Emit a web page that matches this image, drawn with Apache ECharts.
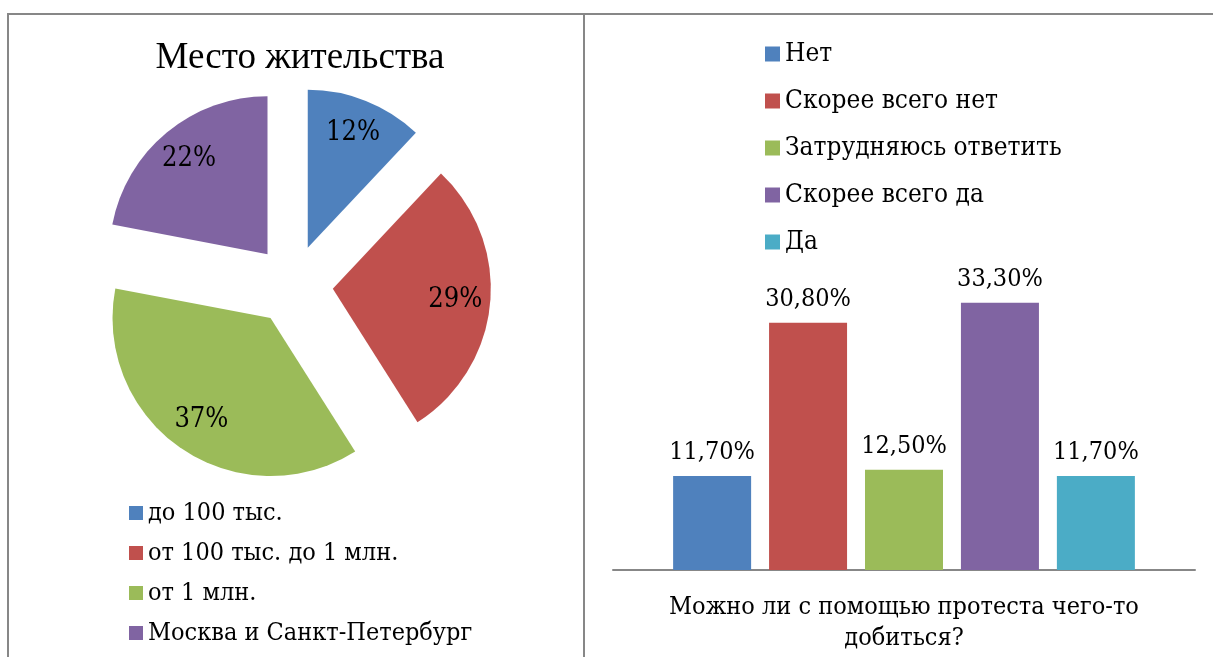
<!DOCTYPE html>
<html>
<head>
<meta charset="utf-8">
<script src="https://cdn.jsdelivr.net/npm/echarts@6/dist/echarts.min.js"></script>
<style>
html,body{margin:0;padding:0;background:#fff;}
#main{width:1213px;height:657px;}
</style>
</head>
<body>
<div id="main"></div>
<script>
// ---- Data ----
const pieTitle = 'Место жительства';
const pieCategories = ['до 100 тыс.', 'от 100 тыс. до 1 млн.', 'от 1 млн.', 'Москва и Санкт-Петербург'];
const pieValues = [12, 29, 37, 22];
const pieColors = ['#4F81BD', '#C0504D', '#9BBB59', '#8064A2'];

const barQuestion = ['Можно ли с помощью протеста чего-то\nдобиться?'];
const barSeriesNames = ['Нет', 'Скорее всего нет', 'Затрудняюсь ответить', 'Скорее всего да', 'Да'];
const barValues = [11.7, 30.8, 12.5, 33.3, 11.7];
const barColors = ['#4F81BD', '#C0504D', '#9BBB59', '#8064A2', '#4BACC6'];

const FONT = '"DejaVu Serif Condensed", "DejaVu Serif", serif';
const GRAY = '#878787';

const chart = echarts.init(document.getElementById('main'), null, {renderer: 'canvas'});

const pieData = pieCategories.map((n, i) => ({
  name: n, value: pieValues[i], selected: true,
  itemStyle: {color: pieColors[i]}
}));
const pieLabelData = pieCategories.map((n, i) => ({
  name: n, value: pieValues[i], selected: true
}));

const barSeries = barSeriesNames.map((n, i) => ({
  type: 'bar', name: n, data: [barValues[i]],
  barWidth: 78, barGap: '23%',
  itemStyle: {color: barColors[i]},
  label: {
    show: true, position: 'top', distance: 11,
    fontFamily: FONT, fontSize: 25, color: '#000',
    formatter: p => p.value.toFixed(2).replace('.', ',') + '%'
  },
  silent: true
}));

const option = {
  animation: false,
  backgroundColor: '#fff',
  title: {
    text: pieTitle, left: 295, top: 35, textAlign: 'center',
    textStyle: {fontFamily: '"Liberation Serif", serif', fontSize: 37, fontWeight: 'normal', color: '#000'}
  },
  legend: [{
    data: pieCategories, orient: 'vertical', left: 124, top: 495,
    itemWidth: 14, itemHeight: 14, itemGap: 14, icon: 'rect',
    textStyle: {fontFamily: FONT, fontSize: 25, lineHeight: 26, color: '#000'},
    selectedMode: false
  }, {
    data: barSeriesNames, orient: 'vertical', left: 760, top: 36,
    itemWidth: 15, itemHeight: 15, itemGap: 21, icon: 'rect',
    textStyle: {fontFamily: FONT, fontSize: 26, lineHeight: 26, color: '#000'},
    selectedMode: false
  }],
  grid: {left: 613, right: 18, top: 249, bottom: 87, containLabel: false},
  xAxis: {
    type: 'category', data: barQuestion,
    axisLine: {lineStyle: {color: GRAY, width: 2}},
    axisTick: {show: false},
    axisLabel: {fontFamily: FONT, fontSize: 25, lineHeight: 31, color: '#000', margin: 22}
  },
  yAxis: {type: 'value', min: 0, max: 40, show: false, splitLine: {show: false}},
  series: [{
    type: 'pie', name: 'pie', center: [293, 285], radius: [0, 158],
    startAngle: 90, clockwise: true,
    selectedMode: 'multiple', selectedOffset: 40,
    data: pieData, label: {show: false}, labelLine: {show: false},
    itemStyle: {borderWidth: 0}, silent: true,
    emphasis: {disabled: true}
  }, {
    type: 'pie', name: 'pieLabels', center: [293, 285], radius: [0, 240],
    startAngle: 90, clockwise: true,
    selectedMode: 'multiple', selectedOffset: 40,
    data: pieLabelData,
    itemStyle: {color: 'rgba(0,0,0,0)', borderWidth: 0},
    label: {show: true, position: 'inside', formatter: p => p.value + '%',
      fontFamily: FONT, fontSize: 27, color: '#000'},
    labelLine: {show: false}, silent: true, emphasis: {disabled: true}
  }].concat(barSeries),
  graphic: [
    {type: 'line', shape: {x1: 7, y1: 14, x2: 1213, y2: 14}, style: {stroke: GRAY, lineWidth: 2}, silent: true},
    {type: 'line', shape: {x1: 8, y1: 13, x2: 8, y2: 657}, style: {stroke: GRAY, lineWidth: 2}, silent: true},
    {type: 'line', shape: {x1: 584, y1: 13, x2: 584, y2: 657}, style: {stroke: GRAY, lineWidth: 2}, silent: true}
  ]
};
chart.setOption(option);
</script>
</body>
</html>
